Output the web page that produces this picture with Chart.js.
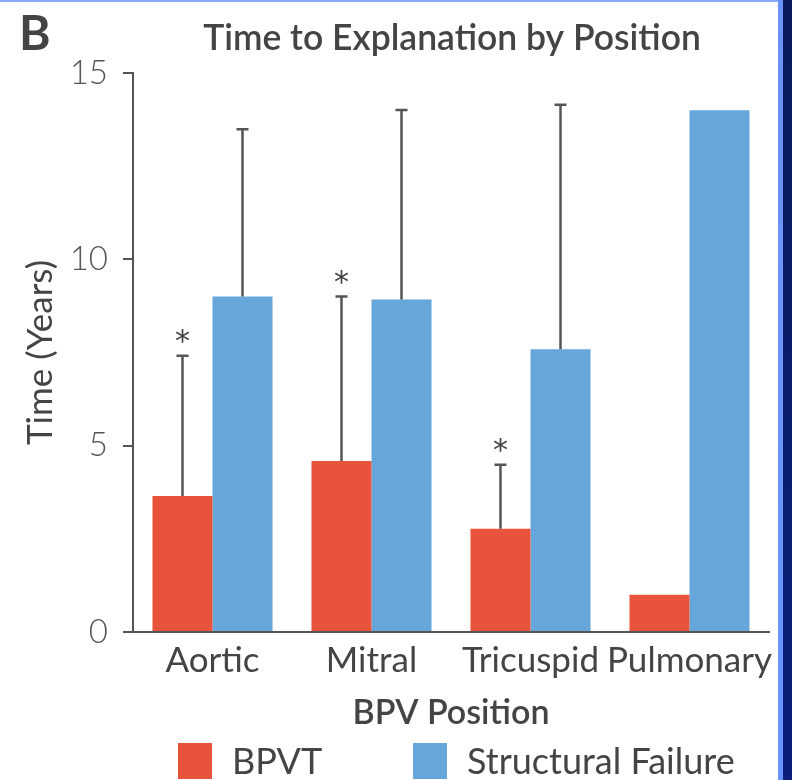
<!DOCTYPE html>
<html><head><meta charset="utf-8">
<script src="https://cdn.jsdelivr.net/npm/chart.js@4/dist/chart.umd.min.js"></script>
<style>
html,body{margin:0;padding:0;background:#fff;}
#wrap{position:relative;width:792px;height:780px;overflow:hidden;background:#fff;}
#c{position:absolute;left:0;top:0;}
.bt{position:absolute;left:0;top:0;width:778px;height:2px;background:#86abff;}
.br1{position:absolute;left:778px;top:0;width:5px;height:780px;background:#6b93ff;}
.br2{position:absolute;left:783px;top:0;width:9px;height:780px;background:linear-gradient(#0a1a5c,#0b1f7a);}
</style></head>
<body><div id="wrap"><canvas id="c" width="792" height="780"></canvas><div class="bt"></div><div class="br1"></div><div class="br2"></div></div>
<script>
// ---- data ----
const categories = ['Aortic', 'Mitral', 'Tricuspid', 'Pulmonary'];
const seriesNames = ['BPVT', 'Structural Failure'];
const bpvtMean = [3.65, 4.59, 2.77, 1.0];
const bpvtErrorTop = [7.41, 9.0, 4.49, null];
const failureMean = [9.0, 8.92, 7.59, 14.0];
const failureErrorTop = [13.49, 14.01, 14.15, null];
const bpvtMarks = ['*', '*', '*', ''];
const yTickValues = [0, 5, 10, 15];
const chartTitle = 'Time to Explanation by Position';
const panelLetter = 'B';
const xTitle = 'BPV Position';
const yTitle = 'Time (Years)';

const RED = '#E8533B';
const BLUE = '#67A6DA';
const FONT = 'Lato, "Liberation Sans", sans-serif';

const overlay = {
  id: 'overlay',
  afterDatasetsDraw(chart) {
    const ctx = chart.ctx;
    const ys = chart.scales.y;
    ctx.save();
    chart.data.datasets.forEach((ds, i) => {
      const meta = chart.getDatasetMeta(i);
      meta.data.forEach((bar, j) => {
        const v = ds.errorTop[j];
        if (v == null) return;
        const yt = ys.getPixelForValue(v);
        ctx.strokeStyle = '#555';
        ctx.lineWidth = 2.5;
        ctx.beginPath();
        ctx.moveTo(bar.x, bar.y);
        ctx.lineTo(bar.x, yt);
        ctx.moveTo(bar.x - 6, yt);
        ctx.lineTo(bar.x + 6, yt);
        ctx.stroke();
        const mark = ds.marks ? ds.marks[j] : '';
        if (mark) {
          ctx.fillStyle = '#444';
          ctx.font = '30px "DejaVu Sans", sans-serif';
          ctx.textAlign = 'center';
          ctx.textBaseline = 'alphabetic';
          ctx.fillText(mark, bar.x, yt - 5);
        }
      });
    });
    ctx.restore();
  },
  afterDraw(chart) {
    const ctx = chart.ctx;
    ctx.save();
    ctx.fillStyle = '#444';
    ctx.textBaseline = 'alphabetic';
    ctx.textAlign = 'left';
    ctx.font = 'bold 48px ' + FONT;
    ctx.fillText(panelLetter, 19, 50);
    ctx.textAlign = 'center';
    ctx.font = '600 35.5px ' + FONT;
    ctx.fillText(chartTitle, 452, 50);
    // legend
    const items = chart.data.datasets.map(d => ({ text: d.label, color: d.backgroundColor }));
    const boxX = [178, 413];
    ctx.textAlign = 'left';
    ctx.textBaseline = 'middle';
    ctx.font = '36px ' + FONT;
    items.forEach((it, k) => {
      ctx.fillStyle = it.color;
      ctx.fillRect(boxX[k], 743, 34, 36);
      ctx.fillStyle = '#444';
      ctx.fillText(it.text, boxX[k] + 54, 762);
    });
    ctx.restore();
  }
};

new Chart(document.getElementById('c'), {
  type: 'bar',
  data: {
    labels: categories,
    datasets: [
      { label: seriesNames[0], data: bpvtMean, backgroundColor: RED, errorTop: bpvtErrorTop, marks: bpvtMarks },
      { label: seriesNames[1], data: failureMean, backgroundColor: BLUE, errorTop: failureErrorTop }
    ]
  },
  options: {
    responsive: false,
    animation: false,
    devicePixelRatio: 1,
    layout: { padding: { left: 0, right: 23, top: 73, bottom: 0 } },
    datasets: { bar: { categoryPercentage: 0.755, barPercentage: 1.0, borderWidth: 0 } },
    plugins: { legend: { display: false }, title: { display: false }, tooltip: { enabled: false } },
    scales: {
      x: {
        grid: { display: false, drawTicks: false },
        border: { display: true, color: '#555', width: 2 },
        ticks: { color: '#444', font: { family: FONT, size: 35 }, padding: 8, maxRotation: 0, autoSkip: false },
        title: { display: true, text: xTitle, color: '#444', font: { family: FONT, size: 34, weight: '600' }, padding: { top: 0, bottom: 47 } },
        afterFit(s) { s.height = 148; }
      },
      y: {
        min: 0, max: 15,
        afterBuildTicks(s) { s.ticks = yTickValues.map(v => ({ value: v })); },
        grid: { display: true, drawOnChartArea: false, drawTicks: true, tickLength: 10, color: '#555', lineWidth: 2 },
        border: { display: true, color: '#555', width: 2 },
        ticks: { color: '#555', font: { family: FONT, size: 33, weight: '300' }, padding: 15 },
        title: { display: true, text: yTitle, color: '#444', font: { family: FONT, size: 35 }, padding: { top: 20, bottom: 0 } },
        afterFit(s) { s.width = 133; }
      }
    }
  },
  plugins: [overlay]
});
</script>
</body></html>
